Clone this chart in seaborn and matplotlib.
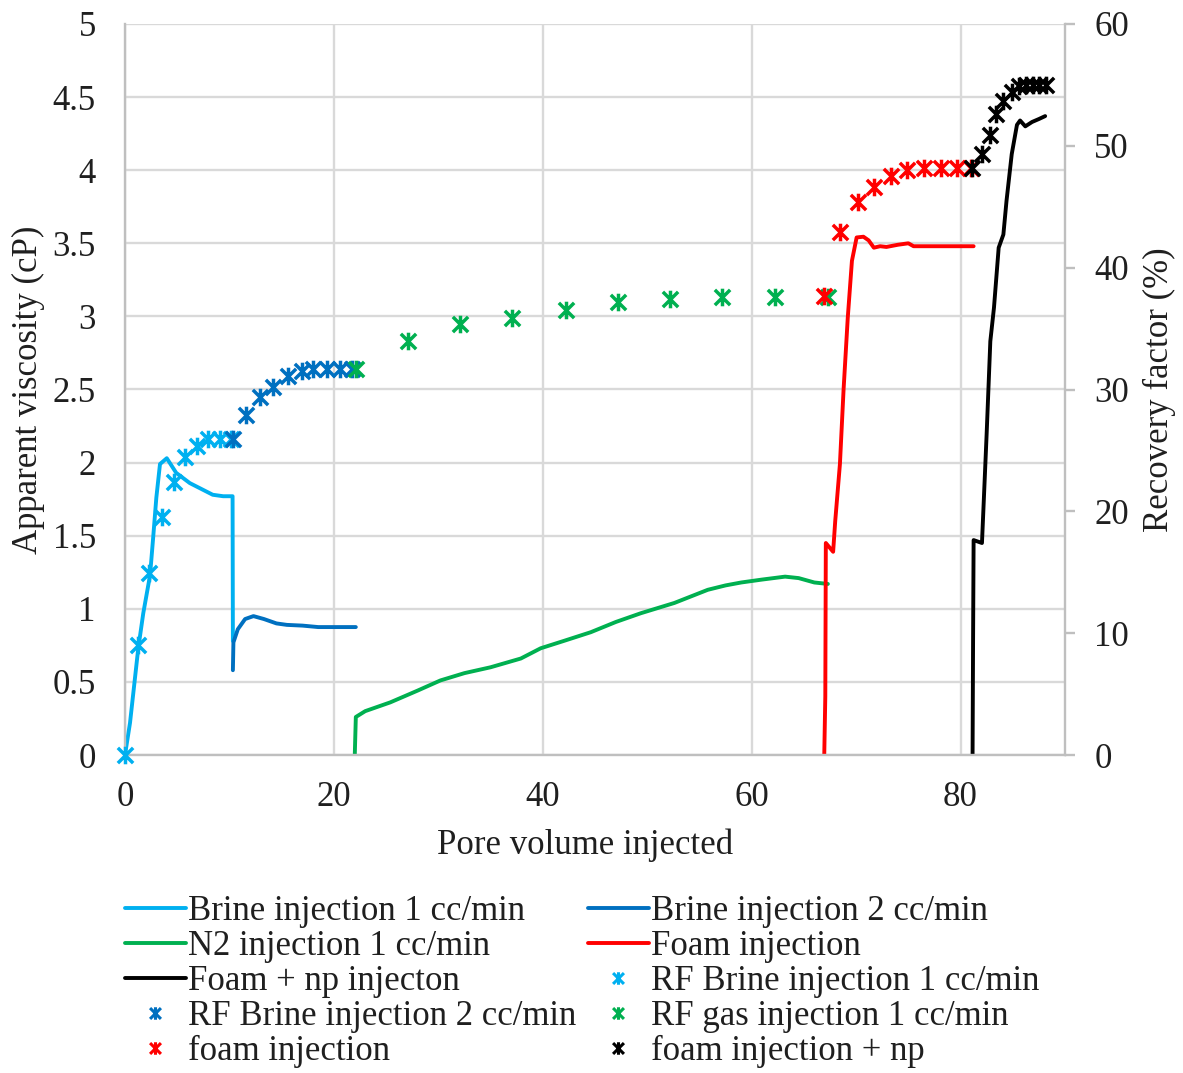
import numpy as np
import matplotlib
matplotlib.use("Agg")
import matplotlib.pyplot as plt
from matplotlib.path import Path
from matplotlib.lines import Line2D
from matplotlib.ticker import FuncFormatter, MultipleLocator
import seaborn as sns

# ---- viscosity curves (pore volume injected, apparent viscosity cP) ----
brine1_pv = [0, 0.48, 1.27, 1.75, 2.4, 2.7, 3.0, 3.35, 4.0, 4.9, 6.2, 7.3, 8.4, 9.4, 10.3, 10.33]
brine1_visc = [0, 0.22, 0.73, 0.97, 1.23, 1.49, 1.76, 1.99, 2.03, 1.93, 1.86, 1.82, 1.78, 1.77, 1.77, 0.78]

brine2_pv = [10.33, 10.38, 10.8, 11.5, 12.3, 13.3, 14.5, 15.5, 17.0, 18.5, 20.0, 22.1]
brine2_visc = [0.58, 0.77, 0.86, 0.93, 0.95, 0.93, 0.90, 0.89, 0.885, 0.875, 0.875, 0.875]

n2_pv = [22.0, 22.1, 23.0, 25.4, 28.0, 30.2, 32.5, 35.0, 37.9, 39.8, 42.0, 44.6,
         47.0, 49.4, 52.6, 55.8, 57.5, 59.0, 61.0, 63.2, 64.5, 66.0, 67.3]
n2_visc = [0, 0.26, 0.30, 0.36, 0.44, 0.51, 0.56, 0.60, 0.66, 0.73, 0.78, 0.84,
           0.91, 0.97, 1.04, 1.13, 1.16, 1.18, 1.20, 1.22, 1.21, 1.18, 1.17]

foam_pv = [66.95, 67.05, 67.1, 67.8, 68.0, 68.45, 68.8, 69.2, 69.6, 70.05, 70.7,
           71.2, 71.7, 72.3, 72.9, 74.0, 75.0, 75.5, 81.25]
foam_visc = [0, 0.4, 1.45, 1.39, 1.6, 1.99, 2.5, 2.99, 3.38, 3.54, 3.545,
             3.52, 3.47, 3.48, 3.475, 3.49, 3.50, 3.48, 3.48]

np_pv = [81.15, 81.2, 81.25, 82.05, 82.5, 82.85, 83.2, 83.65, 84.1, 84.4, 84.9,
         85.4, 85.7, 86.2, 86.85, 87.5, 88.1]
np_visc = [0, 0.8, 1.47, 1.45, 2.2, 2.83, 3.06, 3.47, 3.56, 3.79, 4.11,
           4.31, 4.34, 4.30, 4.33, 4.35, 4.37]

# ---- recovery factor points (%) ----
rf_b1_pv = [0, 1.2, 2.3, 3.5, 4.65, 5.75, 6.85, 7.95, 9.05, 10.15]
rf_b1 = [0, 9.0, 14.9, 19.5, 22.4, 24.5, 25.4, 25.9, 25.9, 25.9]
rf_b2_pv = [10.35, 11.6, 12.9, 14.2, 15.6, 16.9, 18.0, 19.3, 20.6, 21.7]
rf_b2 = [25.9, 27.9, 29.4, 30.2, 31.1, 31.5, 31.7, 31.7, 31.7, 31.7]
rf_gas_pv = [22.1, 27.1, 32.1, 37.1, 42.2, 47.2, 52.2, 57.2, 62.2, 67.3]
rf_gas = [31.7, 34.0, 35.4, 35.9, 36.5, 37.2, 37.4, 37.6, 37.6, 37.6]
rf_foam_pv = [66.9, 68.5, 70.2, 71.7, 73.3, 74.9, 76.5, 78.1, 79.7, 81.0]
rf_foam = [37.7, 42.9, 45.35, 46.6, 47.5, 48.0, 48.2, 48.2, 48.2, 48.2]
rf_np_pv = [81.1, 82.05, 82.8, 83.4, 84.1, 84.9, 85.6, 86.3, 86.9, 87.5, 88.2]
rf_np = [48.2, 49.3, 50.9, 52.6, 53.7, 54.4, 54.9, 55.0, 55.0, 55.0, 55.0]

C_LBLUE, C_DBLUE, C_GREEN, C_RED, C_BLACK = "#00B0F0", "#0070C0", "#00B050", "#FF0000", "#000000"
TXT = "#1f1f1f"
GRID = "#D9D9D9"
AXC = "#BFBFBF"

sns.set_theme(style="whitegrid")
plt.rcParams["font.family"] = ["Liberation Serif", "DejaVu Serif"]
FS = 25

# star marker: an "x" crossed by a vertical bar
star = Path([(-1, -1), (1, 1), (-1, 1), (1, -1), (0, -1.15), (0, 1.15)],
            [Path.MOVETO, Path.LINETO, Path.MOVETO, Path.LINETO, Path.MOVETO, Path.LINETO])

fig = plt.figure(figsize=(11.83, 10.73), dpi=100)
ax = fig.add_axes([125 / 1183, 1 - 755 / 1073, 940 / 1183, 731 / 1073])
ax2 = ax.twinx()

LW = 2.8
for xs, ys, c in [(brine1_pv, brine1_visc, C_LBLUE), (brine2_pv, brine2_visc, C_DBLUE),
                  (n2_pv, n2_visc, C_GREEN), (foam_pv, foam_visc, C_RED),
                  (np_pv, np_visc, C_BLACK)]:
    sns.lineplot(x=xs, y=ys, ax=ax, color=c, linewidth=LW, sort=False,
                 estimator=None, legend=False)

for xs, ys, c in [(rf_b1_pv, rf_b1, C_LBLUE), (rf_b2_pv, rf_b2, C_DBLUE),
                  (rf_gas_pv, rf_gas, C_GREEN), (rf_foam_pv, rf_foam, C_RED),
                  (rf_np_pv, rf_np, C_BLACK)]:
    sns.scatterplot(x=xs, y=ys, ax=ax2, marker=star, s=160, color=c,
                    edgecolor=c, linewidth=2.5, legend=False, zorder=3, clip_on=False)

ax.set_xlim(0, 90)
ax.set_ylim(0, 5)
ax2.set_ylim(0, 60)
ax.xaxis.set_major_locator(MultipleLocator(20))
ax.yaxis.set_major_locator(MultipleLocator(0.5))
ax2.yaxis.set_major_locator(MultipleLocator(10))
ax.yaxis.set_major_formatter(FuncFormatter(lambda v, p: f"{v:g}"))

ax.grid(True, color=GRID, linewidth=1.7)
ax2.grid(False)
ax.set_axisbelow(True)

for s in ["top", "right"]:
    ax.spines[s].set_visible(False)
for s in ["top", "left", "bottom"]:
    ax2.spines[s].set_visible(False)
for s in ["left", "bottom"]:
    ax.spines[s].set_color(AXC)
    ax.spines[s].set_linewidth(1.7)
ax2.spines["right"].set_color(AXC)
ax2.spines["right"].set_linewidth(1.7)

ax.tick_params(axis="both", length=0, labelsize=FS, labelcolor=TXT)
ax.tick_params(axis="y", pad=21)
ax.tick_params(axis="x", pad=19)
ax2.tick_params(axis="y", direction="out", length=7, width=1.7, color=AXC,
                labelsize=FS, labelcolor=TXT, pad=14)

ax.set_xlabel("Pore volume injected", fontsize=FS, color=TXT)
ax.xaxis.set_label_coords(0.489, -0.123)
ax.xaxis.label.set_va("center")
ax.set_ylabel("Apparent viscosity (cP)", fontsize=FS, color=TXT)
ax.yaxis.set_label_coords(-0.103, 0.5)
ax.yaxis.label.set_va("center")
ax2.set_ylabel("Recovery factor (%)", fontsize=FS, color=TXT)
ax2.yaxis.set_label_coords(1.101, 0.5)
ax2.yaxis.label.set_va("center")

def line_h(c):
    return Line2D([], [], color=c, linewidth=LW)

def mark_h(c):
    return Line2D([], [], color=c, linestyle="none", marker=star,
                  markersize=9, markeredgewidth=2.2)

handles = [line_h(C_LBLUE), line_h(C_GREEN), line_h(C_BLACK), mark_h(C_DBLUE), mark_h(C_RED),
           line_h(C_DBLUE), line_h(C_RED), mark_h(C_LBLUE), mark_h(C_GREEN), mark_h(C_BLACK)]
labels = ["Brine injection 1 cc/min", "N2 injection 1 cc/min", "Foam + np injecton",
          "RF Brine injection 2 cc/min", "foam injection",
          "Brine injection 2 cc/min", "Foam injection", "RF Brine injection 1 cc/min",
          "RF gas injection 1 cc/min", "foam injection + np"]
leg = fig.legend(handles, labels, loc="upper left", bbox_to_anchor=(125 / 1183, 1 - 895 / 1073),
                 ncol=2, frameon=False, fontsize=FS, borderpad=0, borderaxespad=0,
                 handlelength=1.75, handletextpad=0.07, columnspacing=0.33, labelspacing=0.06)
for t in leg.get_texts():
    t.set_color(TXT)

fig.savefig("out.png", dpi=100, facecolor="white")
